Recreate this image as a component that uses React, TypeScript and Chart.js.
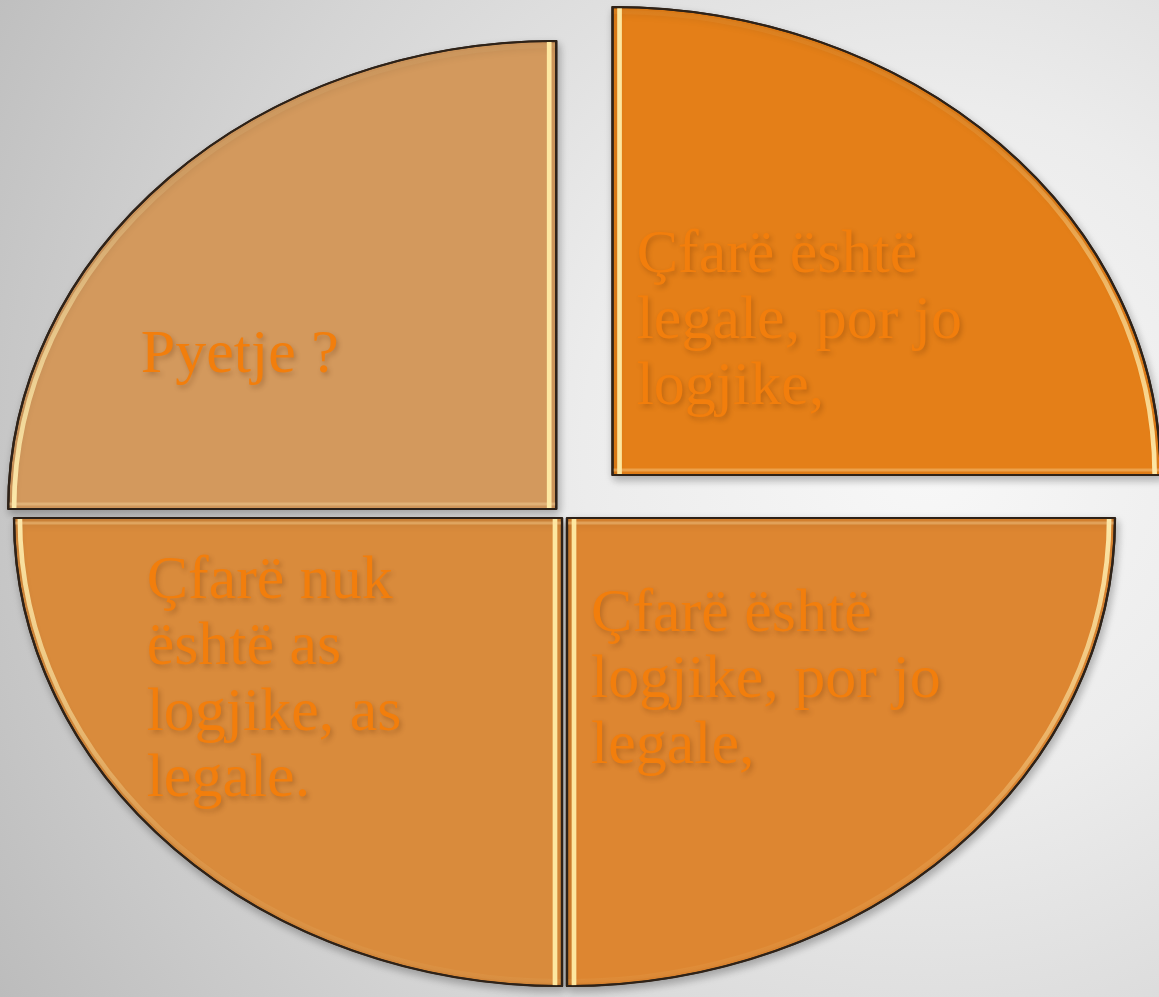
import React, { useEffect, useRef } from "react";
import { Chart, registerables } from "chart.js";

Chart.register(...registerables);

// ---- data ----
const categories = [
  "Çfarë është legale, por jo logjike,",
  "Çfarë është logjike, por jo legale,",
  "Çfarë nuk është as logjike, as legale.",
  "Pyetje ?",
];
const labelLines = [
  ["Çfarë është", "legale, por jo", "logjike,"],
  ["Çfarë është", "logjike, por jo", "legale,"],
  ["Çfarë nuk", "është as", "logjike, as", "legale."],
  ["Pyetje ?"],
];
const values = [25, 25, 25, 25];
const sliceColors = ["#E47F18", "#DD8631", "#D98B3C", "#D3995D"];
const explodeOffsets = [232, 12, 12, 40];

// ---- layout ----
const W = 1159;
const H = 997;
const RX = 548;
const RY = 468;
const SX = RX / RY;
const TEXT_COLOR = "rgb(242,126,12)";
const FONT_SIZE = 62;
const LINE_H = 66;

const ellipsePlugin = {
  id: "ellipsePie",
  beforeDatasetsDraw(chart: any) {
    const meta = chart.getDatasetMeta(0);
    const el = meta.data[0];
    if (!el) return;
    const ctx = chart.ctx as CanvasRenderingContext2D;
    ctx.save();
    ctx.translate(el.x, el.y);
    ctx.scale(SX, 1);
    ctx.translate(-el.x, -el.y);
    ctx.shadowColor = "rgba(0,0,0,0.28)";
    ctx.shadowBlur = 9;
    ctx.shadowOffsetX = 2;
    ctx.shadowOffsetY = 4;
  },
  afterDatasetsDraw(chart: any) {
    const ctx = chart.ctx as CanvasRenderingContext2D;
    const meta = chart.getDatasetMeta(0);
    ctx.shadowColor = "transparent";
    ctx.shadowBlur = 0;
    ctx.shadowOffsetX = 0;
    ctx.shadowOffsetY = 0;
    const corners: { x: number; y: number; mid: number }[] = [];
    meta.data.forEach((el: any, i: number) => {
      const { x, y, startAngle, endAngle, outerRadius } = el.getProps(
        ["x", "y", "startAngle", "endAngle", "outerRadius"],
        true
      );
      const R = outerRadius;
      const mid = (startAngle + endAngle) / 2;
      const t = (el.options.offset || 0) / 4;
      const ox = x + Math.cos(mid) * t;
      const oy = y + Math.sin(mid) * t;
      corners.push({ x: x + (ox - x) * SX, y: oy, mid });
      const path = () => {
        ctx.beginPath();
        ctx.moveTo(ox, oy);
        ctx.arc(ox, oy, R, startAngle, endAngle);
        ctx.closePath();
      };
      ctx.save();
      path();
      ctx.clip();
      ctx.lineCap = "round";
      const dirY = Math.sin(mid) < 0 ? -1 : 1;
      const g = ctx.createLinearGradient(0, oy, 0, oy + dirY * R);
      g.addColorStop(0, "rgba(255,238,175,0.95)");
      g.addColorStop(0.35, "rgba(255,238,175,0.6)");
      g.addColorStop(0.7, "rgba(255,238,175,0.12)");
      g.addColorStop(1, "rgba(255,238,175,0.05)");
      ctx.beginPath();
      ctx.arc(ox, oy, R - 5, startAngle, endAngle);
      ctx.strokeStyle = g;
      ctx.lineWidth = 4;
      ctx.stroke();
      [startAngle, endAngle].forEach((a: number) => {
        const vertical = Math.abs(Math.cos(a)) < 0.5;
        const ex = ox + Math.cos(a) * R;
        const ey = oy + Math.sin(a) * R;
        const nx = Math.cos(mid) < 0 ? -1 : 1;
        const ny = Math.sin(mid) < 0 ? -1 : 1;
        const sx = vertical ? nx * 6 : 0;
        const sy = vertical ? 0 : ny * 5;
        ctx.beginPath();
        ctx.moveTo(ox + sx, oy + sy);
        ctx.lineTo(ex + sx, ey + sy);
        ctx.strokeStyle = vertical ? "rgba(255,236,165,0.95)" : "rgba(255,225,170,0.35)";
        ctx.lineWidth = vertical ? 4 : 3;
        ctx.stroke();
      });
      ctx.restore();
      ctx.save();
      path();
      ctx.lineJoin = "miter";
      ctx.strokeStyle = "#2e2218";
      ctx.lineWidth = 1.8;
      ctx.stroke();
      ctx.restore();
    });
    ctx.restore();

    ctx.save();
    ctx.font = `${FONT_SIZE}px 'Liberation Serif', 'Times New Roman', serif`;
    ctx.textAlign = "left";
    ctx.textBaseline = "alphabetic";
    ctx.fillStyle = TEXT_COLOR;
    ctx.shadowColor = "rgba(90,40,0,0.28)";
    ctx.shadowBlur = 5;
    ctx.shadowOffsetX = 2;
    ctx.shadowOffsetY = 3;
    corners.forEach((c, i) => {
      const dx = Math.cos(c.mid) < 0 ? -1 : 1;
      const dy = Math.sin(c.mid) < 0 ? -1 : 1;
      const left = c.x + (dx < 0 ? -0.758 * RX : 0.044 * RX);
      const midY = c.y + dy * 0.337 * RY;
      const lines = labelLines[i];
      const n = lines.length;
      lines.forEach((line, k) => {
        const base = midY + (k - (n - 1) / 2) * LINE_H + 21;
        ctx.fillText(line, left, base);
      });
    });
    ctx.restore();
  },
};

export default function App() {
  const ref = useRef<HTMLCanvasElement | null>(null);
  useEffect(() => {
    document.body.style.margin = "0";
    if (!ref.current) return;
    const chart = new Chart(ref.current, {
      type: "pie",
      data: {
        labels: categories,
        datasets: [
          {
            data: values,
            backgroundColor: sliceColors,
            borderColor: "#2e2218",
            borderWidth: 2,
            offset: explodeOffsets,
            clip: false as any,
          },
        ],
      },
      options: {
        animation: false,
        responsive: false,
        devicePixelRatio: 1,
        radius: RY,
        layout: { padding: { left: 0, right: 30, top: 35, bottom: 0 } },
        plugins: {
          legend: { display: false },
          tooltip: { enabled: false },
        },
        events: [],
      } as any,
      plugins: [ellipsePlugin],
    });
    return () => chart.destroy();
  }, []);
  return (
    <div
      style={{
        position: "fixed",
        left: 0,
        top: 0,
        width: W,
        height: H,
        overflow: "hidden",
        background:
          "radial-gradient(circle farthest-corner at 80% 45%, #f8f8f8 0%, #ececec 32%, #d4d4d4 68%, #bcbcbc 100%)",
      }}
    >
      <canvas ref={ref} width={W} height={H} style={{ display: "block", width: W, height: H }} />
    </div>
  );
}
